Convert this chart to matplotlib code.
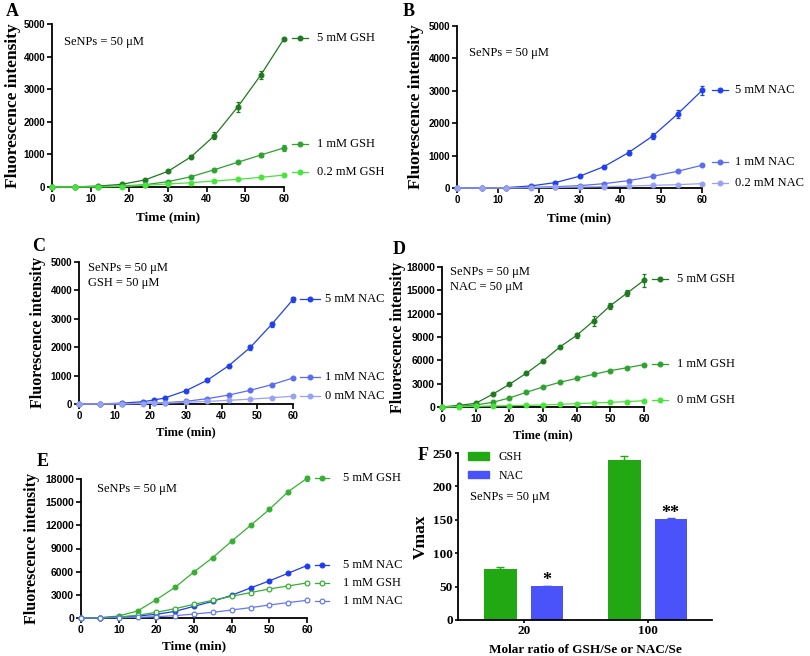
import matplotlib
matplotlib.use('Agg')
import matplotlib.pyplot as plt
import numpy as np
from matplotlib.patches import Patch

W, H = 810, 656
SERIF = 'Liberation Serif'
SANS = 'Liberation Sans'

# ---------------- data ----------------
t_A = [0, 6, 12, 18, 24, 30, 36, 42, 48, 54, 60]
A_gsh5 = [0, 5, 30, 82, 215, 481, 930, 1574, 2450, 3436, 4545]
A_gsh5_err = [0, 0, 0, 0, 25, 30, 40, 110, 150, 110, 40]
A_gsh1 = [0, 2, 10, 30, 70, 164, 317, 531, 757, 981, 1200]
A_gsh1_err = [0, 0, 0, 0, 0, 20, 30, 30, 30, 60, 100]
A_gsh02 = [0, 1, 5, 15, 52, 92, 133, 184, 235, 297, 365]

t_B = [0, 6, 12, 18, 24, 30, 36, 42, 48, 54, 60]
B_nac5 = [0, 3, 12, 62, 165, 362, 660, 1092, 1610, 2280, 3010]
B_nac5_err = [0, 0, 0, 0, 0, 20, 30, 70, 90, 120, 150]
B_nac1 = [0, 1, 5, 20, 40, 72, 134, 227, 362, 516, 702]
B_nac02 = [0, 0, 2, 8, 18, 31, 41, 62, 82, 103, 134]

t_C = [0, 6, 12, 18, 21, 24, 30, 36, 42, 48, 54, 60]
C_nac5 = [0, 5, 30, 82, 140, 210, 470, 840, 1350, 1990, 2800, 3680]
C_nac5_err = [0, 0, 0, 0, 0, 0, 20, 30, 40, 100, 100, 80]
C_nac1 = [0, 2, 10, 25, 35, 47, 94, 188, 317, 481, 680, 915]
C_nac0 = [0, 1, 5, 15, 22, 30, 60, 90, 130, 170, 220, 275]

t_D = [0, 5, 10, 15, 20, 25, 30, 35, 40, 45, 50, 55, 60]
D_gsh5 = [0, 214, 471, 1629, 2914, 4329, 5914, 7714, 9214, 11057, 13029, 14657, 16286]
D_gsh5_err = [0, 0, 0, 0, 0, 100, 100, 150, 300, 600, 400, 350, 800]
D_gsh1 = [0, 86, 257, 600, 1157, 1886, 2571, 3171, 3686, 4200, 4671, 5057, 5443]
D_gsh0 = [0, 43, 86, 129, 171, 214, 257, 343, 429, 514, 600, 686, 814]

t_E = [0, 5, 10, 15, 20, 25, 30, 35, 40, 45, 50, 55, 60]
E_gsh5 = [0, 43, 260, 909, 2380, 3981, 5971, 7832, 9952, 11986, 14063, 16356, 18087]
E_gsh5_err = [0, 0, 0, 0, 0, 0, 0, 0, 0, 0, 0, 250, 350]
E_nac5 = [0, 20, 130, 260, 476, 865, 1514, 2163, 2942, 3894, 4803, 5798, 6793]
E_gsh1 = [0, 30, 130, 346, 736, 1212, 1774, 2293, 2812, 3288, 3764, 4154, 4543]
E_nac1 = [0, 10, 43, 87, 173, 303, 519, 736, 1038, 1341, 1688, 1990, 2293]

F_ratios = ['20', '100']
F_gsh = [76, 240]
F_gsh_err = [4, 6]
F_nac = [51, 151]
F_nac_err = [0.6, 1.0]
F_stars = ['*', '**']

# ---------------- colours ----------------
G_DARK = '#1f7a1f'
G_MID = '#2ea22e'
G_LIGHT = '#48e43c'
B_DARK = '#2040ee'
B_MID = '#5a6cf2'
B_LIGHT = '#98a2f2'
E_GREEN = '#36b032'
E_BLUE = '#1f3cf2'
E_BLUE2 = '#6478f2'
F_GREEN = '#22a812'
F_BLUE = '#4a52fa'

fig = plt.figure(figsize=(W / 100, H / 100), dpi=100)


def px_axes(l, t, r, b):
    return fig.add_axes([l / W, 1 - b / H, (r - l) / W, (b - t) / H])


def style(ax, xlim, ylim, xticks, yticks, fs, family, length=3.5, pad=1.5):
    for s in ['top', 'right']:
        ax.spines[s].set_visible(False)
    for s in ['left', 'bottom']:
        ax.spines[s].set_linewidth(1.3)
    ax.set_xlim(*xlim)
    ax.set_ylim(*ylim)
    ax.set_xticks(xticks)
    ax.set_yticks(yticks)
    ax.tick_params(direction='out', length=length, width=1.2, labelsize=fs, pad=pad)
    for lab in ax.get_xticklabels() + ax.get_yticklabels():
        lab.set_fontfamily(family)
        lab.set_fontweight('bold')


def series(ax, x, y, err, color, label, label_y, open_marker=False,
           gap=8, seglen=16, txt=33):
    mfc = 'white' if open_marker else color
    if err is None:
        err = np.zeros(len(y))
    cont = ax.errorbar(x, y, yerr=err, color=color, lw=0.9, marker='o', ms=3.4,
                       mfc=mfc, mec=color, mew=0.9, capsize=1.6,
                       elinewidth=0.9, capthick=0.9, zorder=3)
    for ch in cont.get_children():
        ch.set_clip_on(False)
    w = ax.get_position().width * W
    tr = ax.get_yaxis_transform()
    x0 = 1 + gap / w
    x1 = 1 + (gap + seglen) / w
    ax.plot([x0, x1], [label_y, label_y], color=color, lw=0.9, transform=tr,
            clip_on=False)
    ax.plot([(x0 + x1) / 2], [label_y], color=color, marker='o', ms=3.4,
            mfc=mfc, mec=color, mew=0.9, transform=tr, clip_on=False)
    ax.text(1 + txt / w, label_y, label, transform=tr, fontsize=9,
            family=SERIF, va='center', ha='left')


def ftext(x, y, s, size=9, **kw):
    fig.text(x / W, 1 - y / H, s, fontsize=size, family=SERIF, va='center',
             ha='left', **kw)


def ylab(ax, s, size, pad):
    ax.set_ylabel(s, fontsize=size, family=SERIF, fontweight='bold', labelpad=pad)


def xlab(ax, s, size, pad):
    ax.set_xlabel(s, fontsize=size, family=SERIF, fontweight='bold', labelpad=pad)


# ---------------- A ----------------
axA = px_axes(52, 24, 284, 187)
style(axA, (0, 60), (0, 5000), range(0, 61, 10), range(0, 5001, 1000), 7, SANS)
series(axA, t_A, A_gsh5, A_gsh5_err, G_DARK, '5 mM GSH', 4570)
series(axA, t_A, A_gsh1, A_gsh1_err, G_MID, '1 mM GSH', 1310)
series(axA, t_A, A_gsh02, None, G_LIGHT, '0.2 mM GSH', 450)
ylab(axA, 'Fluorescence intensity', 12.5, 1.5)
xlab(axA, 'Time (min)', 9.5, 5)
ftext(64, 42, 'SeNPs = 50 μM')
fig.text(12 / W, 1 - 11 / H, 'A', fontsize=13, family=SERIF, fontweight='bold',
         ha='center', va='center')

# ---------------- B ----------------
axB = px_axes(457, 26, 702, 188)
style(axB, (0, 60), (0, 5000), range(0, 61, 10), range(0, 5001, 1000), 7, SANS)
series(axB, t_B, B_nac5, B_nac5_err, B_DARK, '5 mM NAC', 3040, gap=10)
series(axB, t_B, B_nac1, None, B_MID, '1 mM NAC', 795, gap=10)
series(axB, t_B, B_nac02, None, B_LIGHT, '0.2 mM NAC', 150, gap=10)
ylab(axB, 'Fluorescence intensity', 12.5, 3)
xlab(axB, 'Time (min)', 9.5, 5)
ftext(469, 53, 'SeNPs = 50 μM')
fig.text(409 / W, 1 - 11 / H, 'B', fontsize=13, family=SERIF, fontweight='bold',
         ha='center', va='center')

# ---------------- C ----------------
axC = px_axes(79, 262, 293, 404)
style(axC, (0, 60), (0, 5000), range(0, 61, 10), range(0, 5001, 1000), 7, SANS)
series(axC, t_C, C_nac5, C_nac5_err, B_DARK, '5 mM NAC', 3700, gap=7, seglen=20, txt=32)
series(axC, t_C, C_nac1, None, B_MID, '1 mM NAC', 950, gap=7, seglen=20, txt=32)
series(axC, t_C, C_nac0, None, B_LIGHT, '0 mM NAC', 280, gap=7, seglen=20, txt=32)
ylab(axC, 'Fluorescence intensity', 11.5, 3)
xlab(axC, 'Time (min)', 9, 4)
ftext(88, 268, 'SeNPs = 50 μM')
ftext(88, 283, 'GSH = 50 μM')
fig.text(39 / W, 1 - 247 / H, 'C', fontsize=13, family=SERIF, fontweight='bold',
         ha='center', va='center')

# ---------------- D ----------------
axD = px_axes(442, 267, 644, 407)
style(axD, (0, 60), (0, 18000), range(0, 61, 10), range(0, 18001, 3000), 7.5, SANS)
series(axD, t_D, D_gsh5, D_gsh5_err, G_DARK, '5 mM GSH', 16450)
series(axD, t_D, D_gsh1, None, G_MID, '1 mM GSH', 5500)
series(axD, t_D, D_gsh0, None, G_LIGHT, '0 mM GSH', 880)
ylab(axD, 'Fluorescence intensity', 11.5, 0)
xlab(axD, 'Time (min)', 9, 4)
ftext(450, 272, 'SeNPs = 50 μM')
ftext(450, 287, 'NAC = 50 μM')
fig.text(399 / W, 1 - 250 / H, 'D', fontsize=13, family=SERIF, fontweight='bold',
         ha='center', va='center')

# ---------------- E ----------------
axE = px_axes(81, 479, 307, 618)
style(axE, (0, 60), (0, 18000), range(0, 61, 10), range(0, 18001, 3000), 7.5, SANS)
series(axE, t_E, E_gsh5, E_gsh5_err, E_GREEN, '5 mM GSH', 18130, gap=8, seglen=14, txt=36)
series(axE, t_E, E_nac5, None, E_BLUE, '5 mM NAC', 6860, gap=8, seglen=14, txt=36)
series(axE, t_E, E_gsh1, None, E_GREEN, '1 mM GSH', 4530, open_marker=True, gap=8, seglen=14, txt=36)
series(axE, t_E, E_nac1, None, E_BLUE2, '1 mM NAC', 2200, open_marker=True, gap=8, seglen=14, txt=36)
ylab(axE, 'Fluorescence intensity', 11.5, 4)
xlab(axE, 'Time (min)', 9.5, 4)
ftext(97, 489, 'SeNPs = 50 μM')
fig.text(43 / W, 1 - 461 / H, 'E', fontsize=13, family=SERIF, fontweight='bold',
         ha='center', va='center')

# ---------------- F ----------------
axF = px_axes(458, 453, 712, 620)
xF = np.arange(len(F_ratios))
bw = 0.26
off = 0.187
axF.bar(xF - off, F_gsh, bw, color=F_GREEN, yerr=[np.zeros(len(F_gsh)), F_gsh_err],
        capsize=3, error_kw=dict(ecolor=F_GREEN, elinewidth=1.0, capthick=1.0), zorder=2)
axF.bar(xF + off, F_nac, bw, color=F_BLUE, yerr=[np.zeros(len(F_nac)), F_nac_err],
        capsize=3, error_kw=dict(ecolor=F_BLUE, elinewidth=1.0, capthick=1.0), zorder=2)
for xi, v, s in zip(xF, F_nac, F_stars):
    axF.annotate(s, (xi + off, v), xytext=(0, 1), textcoords='offset points',
                 ha='center', va='baseline', fontsize=13, family=SERIF,
                 fontweight='bold')
style(axF, (-0.53, 1.52), (0, 250), xF, range(0, 251, 50), 9.5, SERIF,
      length=2.5, pad=1.2)
axF.set_xticklabels(F_ratios, family=SERIF, fontweight='bold', fontsize=9.5)
ylab(axF, 'Vmax', 12.5, 3)
xlab(axF, 'Molar ratio of GSH/Se or NAC/Se', 9.5, 5)
handles = [Patch(color=F_GREEN, label='GSH'), Patch(color=F_BLUE, label='NAC')]
axF.legend(handles=handles, loc='upper left', bbox_to_anchor=(10 / 254, 1.01),
           frameon=False, prop=dict(family=SERIF, size=8.5), handlelength=1.8,
           handleheight=0.6, handletextpad=0.8, labelspacing=0.55,
           borderaxespad=0, borderpad=0)
ftext(470, 497, 'SeNPs = 50 μM')
fig.text(423 / W, 1 - 456 / H, 'F', fontsize=13, family=SERIF, fontweight='bold',
         ha='center', va='center')

fig.savefig('out.png', dpi=100)
